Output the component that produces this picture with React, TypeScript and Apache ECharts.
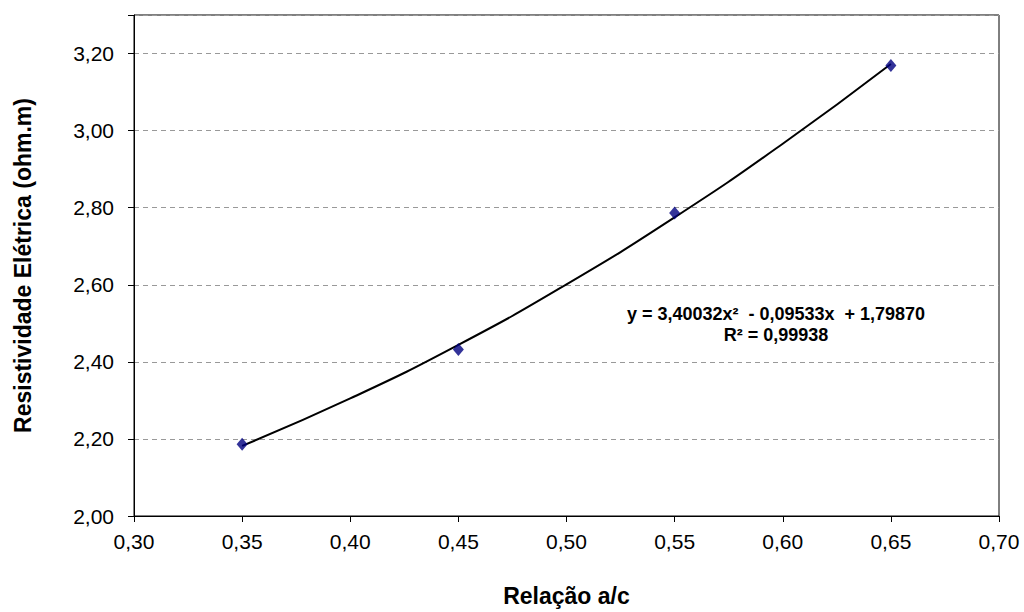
import React, { useEffect, useRef } from "react";
import * as echarts from "echarts";

const ratioAC = [0.35, 0.45, 0.55, 0.65];
const resistivity = [2.186, 2.432, 2.786, 3.169];
const trendX = [0.35, 0.40, 0.45, 0.50, 0.55, 0.60, 0.65];
const trendY = [2.182, 2.305, 2.444, 2.601, 2.775, 2.966, 3.173];
const equationText = "y = 3,40032x\u00B2  - 0,09533x  + 1,79870";
const r2Text = "R\u00B2 = 0,99938";
const xTitle = "Relação a/c";
const yTitle = "Resistividade Elétrica (ohm.m)";

const fmt = (v: number) => v.toFixed(2).replace(".", ",");

export default function App() {
  const ref = useRef<HTMLDivElement>(null);
  useEffect(() => {
    const chart = echarts.init(ref.current!, null, { renderer: "svg" });
    const font = "'Liberation Sans', Arial, sans-serif";
    chart.setOption({
      animation: false,
      backgroundColor: "#ffffff",
      grid: {
        left: 134,
        top: 15,
        right: 25,
        bottom: 94,
        show: true,
        borderColor: "#000000",
        borderWidth: 1,
        backgroundColor: "transparent",
      },
      xAxis: {
        type: "value",
        min: 0.3,
        max: 0.7,
        interval: 0.05,
        name: xTitle,
        nameLocation: "middle",
        nameGap: 68,
        nameTextStyle: { fontFamily: font, fontSize: 23, fontWeight: "bold", color: "#000" },
        axisLine: { lineStyle: { color: "#000", width: 1 } },
        axisTick: { show: true, length: 6, lineStyle: { color: "#000" } },
        axisLabel: {
          fontFamily: font,
          fontSize: 21,
          color: "#000",
          margin: 15,
          formatter: (v: number) => fmt(v),
        },
        splitLine: { show: false },
      },
      yAxis: {
        type: "value",
        min: 2.0,
        max: 3.3,
        interval: 0.2,
        name: yTitle,
        nameLocation: "middle",
        nameGap: 100,
        nameRotate: 90,
        nameTextStyle: { fontFamily: font, fontSize: 23, fontWeight: "bold", color: "#000" },
        axisLine: { show: true, lineStyle: { color: "#000", width: 1 } },
        axisTick: {
          show: true,
          length: 6,
          lineStyle: { color: "#000" },
          interval: (i: number, v: any) => Number(v) < 3.25,
        },
        axisLabel: {
          fontFamily: font,
          fontSize: 21,
          color: "#000",
          margin: 20,
          formatter: (v: number) => (v > 3.25 ? "" : fmt(v)),
        },
        splitLine: {
          show: true,
          lineStyle: { color: "#999999", type: [5, 4], width: 1 },
        },
      },
      graphic: [
        {
          type: "text",
          x: 776,
          y: 314,
          style: {
            text: equationText,
            fontFamily: font,
            fontSize: 18,
            fontWeight: "bold",
            fill: "#000",
            textAlign: "center",
            textVerticalAlign: "middle",
          },
        },
        {
          type: "text",
          x: 776,
          y: 335,
          style: {
            text: r2Text,
            fontFamily: font,
            fontSize: 18,
            fontWeight: "bold",
            fill: "#000",
            textAlign: "center",
            textVerticalAlign: "middle",
          },
        },
      ],
      series: [
        {
          type: "line",
          data: trendX.map((x, i) => [x, trendY[i]]),
          smooth: true,
          showSymbol: false,
          symbol: "none",
          lineStyle: { color: "#000000", width: 2 },
          z: 2,
        },
        {
          type: "scatter",
          data: ratioAC.map((x, i) => [x, resistivity[i]]),
          symbol: "diamond",
          symbolSize: [11, 13],
          itemStyle: { color: "#000080" },
          z: 3,
        },
      ],
    });
    return () => chart.dispose();
  }, []);
  return (
    <div
      ref={ref}
      style={{ position: "fixed", left: 0, top: 0, width: 1024, height: 612, background: "#fff" }}
    />
  );
}
